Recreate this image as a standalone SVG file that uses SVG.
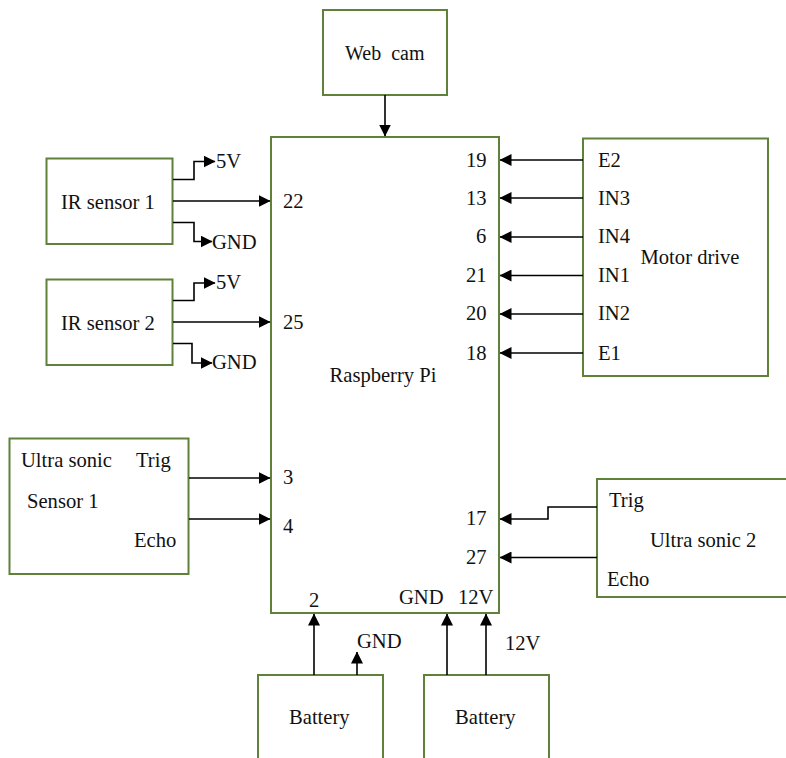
<svg xmlns="http://www.w3.org/2000/svg" width="786" height="758" viewBox="0 0 786 758">
<style>
.n{fill:#fff;stroke:#5f8139;stroke-width:2}
.c path{fill:none;stroke:#000;stroke-width:1.6;marker-end:url(#a)}
text{font-family:"Liberation Serif","Times New Roman",serif;font-size:20.600px;fill:#111;white-space:pre}
</style>
<defs><marker id="a" markerUnits="userSpaceOnUse" markerWidth="12" markerHeight="12" refX="11.5" refY="6" orient="auto"><path d="M0,0L12,6L0,12Z" fill="#000" stroke="none"/></marker></defs>
<rect width="786" height="758" fill="#fff"/>
<g id="webcam"><rect class="n" x="323" y="10" width="124" height="85"/><text x="345" y="60" style="font-size:20px">Web  cam</text></g>
<g id="pi"><rect class="n" x="271" y="137" width="228" height="476"/><text x="329.500" y="382">Raspberry Pi</text>
<text x="283" y="208">22</text><text x="283" y="329">25</text><text x="283" y="484">3</text><text x="283" y="533">4</text><text x="309" y="607">2</text>
<text x="399" y="604">GND</text><text x="458" y="604">12V</text>
<text x="466" y="167">19</text><text x="466" y="205">13</text><text x="476" y="243">6</text><text x="466" y="282">21</text><text x="466" y="320">20</text><text x="466" y="360">18</text><text x="466" y="525">17</text><text x="466" y="564">27</text></g>
<g id="ir1"><rect class="n" x="46.500" y="158.500" width="126" height="85.500"/><text x="61" y="209">IR sensor 1</text><text x="216" y="168">5V</text><text x="212" y="249">GND</text></g>
<g id="ir2"><rect class="n" x="46.500" y="279.500" width="126" height="85.500"/><text x="61" y="330">IR sensor 2</text><text x="216" y="289">5V</text><text x="212" y="369">GND</text></g>
<g id="us1"><rect class="n" x="9.500" y="438.500" width="179" height="135.500"/><text x="21" y="467">Ultra sonic</text><text x="136" y="467">Trig</text><text x="27" y="508">Sensor 1</text><text x="134" y="547">Echo</text></g>
<g id="motor"><rect class="n" x="583" y="138.500" width="185" height="237.500"/><text x="640.500" y="264">Motor drive</text><text x="598" y="167">E2</text><text x="598" y="205">IN3</text><text x="598" y="243">IN4</text><text x="598" y="282">IN1</text><text x="598" y="320">IN2</text><text x="598" y="360">E1</text></g>
<g id="us2"><path class="n" d="M787,479H597V597H787"/><text x="609" y="507">Trig</text><text x="650" y="547">Ultra sonic 2</text><text x="607" y="586">Echo</text></g>
<g id="bat1"><path class="n" d="M258,759V675H383V759"/><text x="289" y="724">Battery</text><text x="357" y="648">GND</text></g>
<g id="bat2"><path class="n" d="M424,759V675H549V759"/><text x="455" y="724">Battery</text><text x="505" y="650">12V</text></g>
<g class="c" id="connectors">
<path d="M385,95V136"/>
<path d="M173,179.500H194V161.500H215"/><path d="M173,201H270"/><path d="M173,222.500H194V241.500H212"/>
<path d="M173,300.500H194V283H215"/><path d="M173,322H270"/><path d="M173,343.500H192V363H212"/>
<path d="M189,478H270"/><path d="M189,519H270"/>
<path d="M583,160H500"/><path d="M583,198H500"/><path d="M583,237H500"/><path d="M583,275.500H500"/><path d="M583,314H500"/><path d="M583,353H500"/>
<path d="M597,507H548V519H500"/><path d="M597,557.500H500"/>
<path d="M314,675V614"/><path d="M357,675V652"/><path d="M447,675V614"/><path d="M486,675V614"/>
</g>
</svg>
